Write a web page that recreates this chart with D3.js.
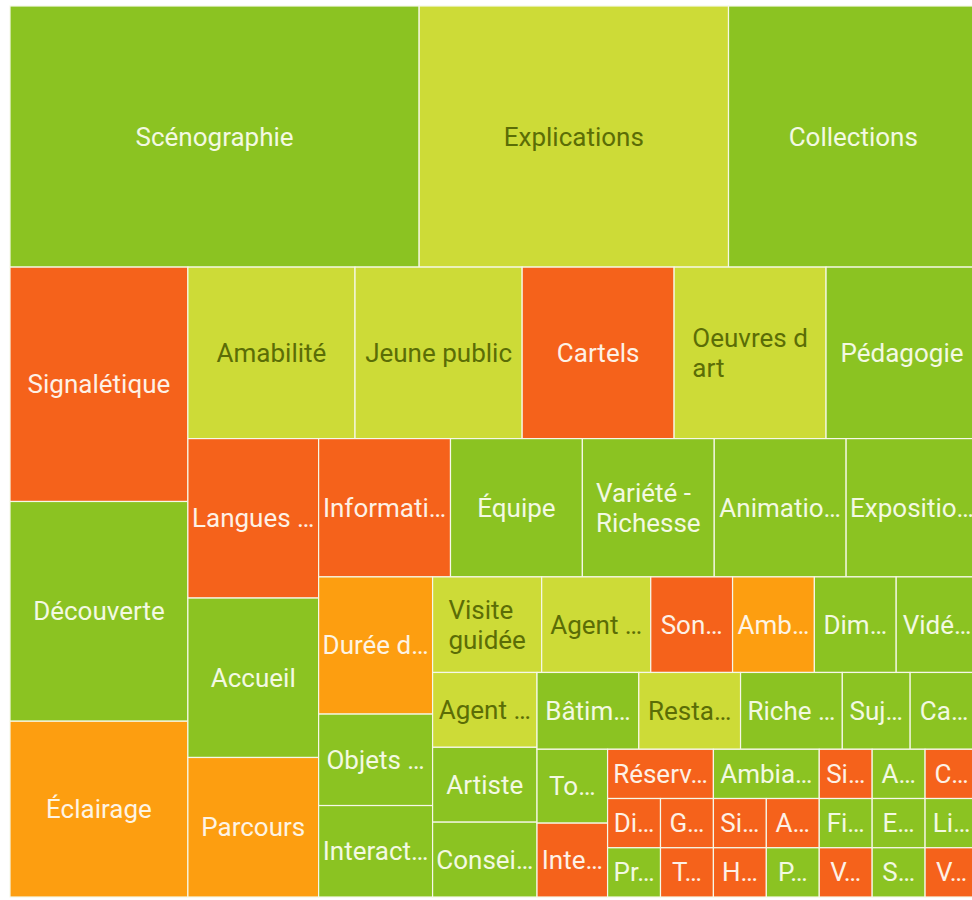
<!DOCTYPE html>
<html>
<head>
<meta charset="utf-8">
<script src="https://cdn.jsdelivr.net/npm/d3@7"></script>
<style>
  body { margin: 0; background: #fff; overflow: hidden; }
  svg { display: block; }
  .cell text { font-family: Roboto, "Noto Sans", sans-serif; font-size: 26px; }
</style>
</head>
<body>
<div id="chart"></div>
<script>
'use strict';

// Visitor feedback topics: area = number of mentions, colour = tone of the comments.
// Labels are kept as they show in the tiles (line breaks and cut-offs included).
var labels = [
  'Scénographie', 'Explications', 'Collections',
  'Signalétique', 'Découverte', 'Éclairage',
  'Amabilité', 'Jeune public', 'Cartels', 'Oeuvres d\nart', 'Pédagogie',
  'Langues …', 'Accueil', 'Parcours',
  'Informati…', 'Équipe', 'Variété -\nRichesse', 'Animatio…', 'Expositio…',
  'Durée d…', 'Objets …', 'Interact…',
  'Visite\nguidée', 'Agent …', 'Son…', 'Amb…', 'Dim…', 'Vidé…',
  'Agent …', 'Artiste', 'Consei…',
  'Bâtim…', 'Resta…', 'Riche …', 'Suj…', 'Ca…',
  'To…', 'Inte…',
  'Réserv…', 'Ambia…', 'Si…', 'A…', 'C…',
  'Di…', 'Pr…',
  'G…', 'Si…', 'A…', 'Fi…', 'E…', 'Li…',
  'T…',
  'H…', 'P…', 'V…', 'S…', 'V…'
];

var counts = [
  41, 31, 25,
  16, 15, 12,
  11, 11, 10, 10, 10,
  8, 8, 7,
  7, 7, 7, 7, 7,
  6, 4, 4,
  4, 4, 3, 3, 3, 3,
  3, 3, 3,
  3, 3, 3, 2, 2,
  2, 2,
  2, 2, 1, 1, 1,
  1, 1,
  1, 1, 1, 1, 1, 1,
  1,
  1, 1, 1, 1, 1
];

// pos = positif, neu = neutre, neg = négatif, mix = mitigé
var tones = [
  'pos', 'neu', 'pos',
  'neg', 'pos', 'mix',
  'neu', 'neu', 'neg', 'neu', 'pos',
  'neg', 'pos', 'mix',
  'neg', 'pos', 'pos', 'pos', 'pos',
  'mix', 'pos', 'pos',
  'neu', 'neu', 'neg', 'mix', 'pos', 'pos',
  'neu', 'pos', 'pos',
  'pos', 'neu', 'pos', 'pos', 'pos',
  'pos', 'neg',
  'neg', 'pos', 'neg', 'pos', 'neg',
  'neg', 'pos',
  'neg', 'neg', 'neg', 'pos', 'pos', 'pos',
  'neg',
  'neg', 'pos', 'neg', 'pos', 'neg'
];

var toneNames = ['pos', 'neu', 'neg', 'mix'];

//Sizing things.
var width = 972;
var height = 900;
var margin = { left: 10, top: 6 };
var mapWidth = 968;   // runs a few px past the right edge of the page
var mapHeight = 891;

var fill = d3.scaleOrdinal()
  .domain(toneNames)
  .range(['#8bc322', '#cddb37', '#f5621b', '#fd9e10']);

var ink = d3.scaleOrdinal()
  .domain(toneNames)
  .range(['#f3f9e2', '#5b6d06', '#fdf1e6', '#fdf4e4']);

function cellRatio(a, t) {
  var len = a / t;
  return Math.max(len / t, t / len);
}

// Strips that switch between a row on top and a column on the left each time.
// A strip is closed when the next tile would make its last tile less square.
function alternatingStrips(parent, x0, y0, x1, y1) {
  var nodes = parent.children,
      k = (x1 - x0) * (y1 - y0) / parent.value,
      across = true,
      i = 0;

  while (i < nodes.length) {
    var side = across ? x1 - x0 : y1 - y0;
    var strip = [nodes[i]], sum = nodes[i].value * k, j = i + 1;

    while (j < nodes.length) {
      var last = strip[strip.length - 1].value * k,
          add = nodes[j].value * k;
      if (cellRatio(last, (sum + add) / side) > cellRatio(last, sum / side)) break;
      strip.push(nodes[j]);
      sum += add;
      j++;
    }

    var t = sum / side;
    var row = { children: strip, value: sum / k };
    if (across) {
      d3.treemapDice(row, x0, y0, x1, y0 + t);
      y0 += t;
    } else {
      d3.treemapSlice(row, x0, y0, x0 + t, y1);
      x0 += t;
    }
    across = !across;
    i = j;
  }
}

var topics = labels.map(function (d, i) {
  return { name: d, count: counts[i], tone: tones[i] };
});

var root = d3.hierarchy({ children: topics })
  .sum(function (d) { return d.count || 0; });

d3.treemap()
  .size([mapWidth, mapHeight])
  .tile(alternatingStrips)
  .round(false)(root);

var svg = d3.select('#chart').append('svg')
  .attr('width', width)
  .attr('height', height);

var map = svg.append('g')
  .attr('transform', 'translate(' + margin.left + ',' + margin.top + ')');

var cells = map.selectAll('g.cell')
  .data(root.leaves())
  .enter().append('g')
  .classed('cell', true);

cells.append('rect')
  .attr('x', function (d) { return d.x0; })
  .attr('y', function (d) { return d.y0; })
  .attr('width', function (d) { return d.x1 - d.x0; })
  .attr('height', function (d) { return d.y1 - d.y0; })
  .attr('fill', function (d) { return fill(d.data.tone); })
  .attr('stroke', '#f6f8e8')
  .attr('stroke-width', 1.2);

var lineHeight = 30;

cells.each(function (d) {
  var g = d3.select(this);
  var lines = d.data.name.split('\n');
  var cx = (d.x0 + d.x1) / 2;
  var cy = (d.y0 + d.y1) / 2;

  var text = g.append('text')
    .attr('fill', ink(d.data.tone))
    .attr('text-anchor', lines.length > 1 ? 'start' : 'middle')
    .attr('dominant-baseline', 'central');

  lines.forEach(function (line, i) {
    text.append('tspan')
      .attr('x', cx)
      .attr('y', cy + (i - (lines.length - 1) / 2) * lineHeight)
      .text(line);
  });

  // wrapped labels sit left-aligned inside a centred block
  if (lines.length > 1) {
    var w = text.node().getBBox().width;
    text.selectAll('tspan').attr('x', cx - w / 2);
  }
});
</script>
</body>
</html>
